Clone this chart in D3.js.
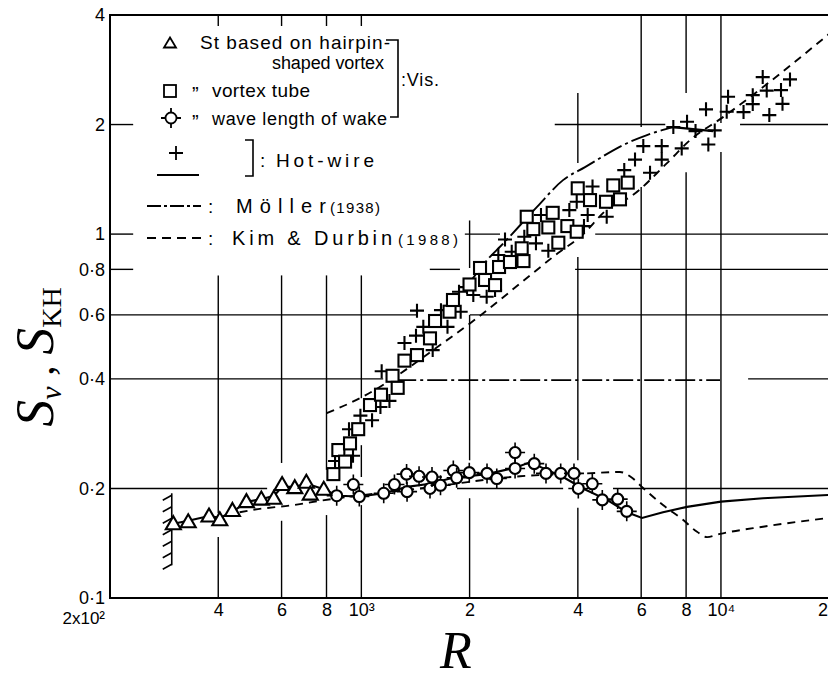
<!DOCTYPE html>
<html>
<head>
<meta charset="utf-8">
<script src="https://cdn.jsdelivr.net/npm/d3@7"></script>
<style>
  body { margin: 0; background: #fff; }
  text { font-family: "Liberation Sans", "DejaVu Sans", sans-serif; fill: #000; }
  .serif { font-family: "Liberation Serif", "DejaVu Serif", serif; }
</style>
</head>
<body>
<div id="chart"></div>
<script>
// values: [R, S]
const triangles = [[300,0.160],[330,0.162],[377,0.168],[404,0.164],[438,0.174],[479,0.184],[527,0.187],
  [571,0.188],[602,0.205],[653,0.201],[703,0.208],[721,0.193],[786,0.199]];

const squares = [[836,0.219],[863,0.255],[901,0.237],[930,0.266],[980,0.291],[1057,0.339],[1134,0.362],
  [1221,0.408],[1262,0.378],[1318,0.449],[1428,0.465],[1552,0.517],[1603,0.577],[1759,0.612],[1798,0.659],
  [1999,0.727],[2138,0.807],[2208,0.748],[2354,0.724],[2415,0.812],[2590,0.838],[2824,0.843],[2792,0.914],
  [2883,1.116],[3008,1.032],[3311,1.043],[3405,1.144],[3530,0.947],[3740,1.052],[3971,1.015],[3997,1.336],
  [4324,1.240],[4790,1.227],[5018,1.361],[5239,1.246],[5505,1.385]];

const diamonds = [[854,0.191],[950,0.205],[987,0.190],[1154,0.194],[1236,0.205],[1336,0.219],[1340,0.196],
  [1447,0.216],[1552,0.200],[1572,0.215],[1660,0.204],[1802,0.224],[1841,0.214],[1996,0.221],[2236,0.220],
  [2380,0.213],[2676,0.251],[2676,0.227],[3026,0.234],[3262,0.220],[3584,0.220],[3902,0.220],[4012,0.200],
  [4388,0.206],[4678,0.186],[5162,0.187],[5470,0.173]];

const crosses = [[845,0.238],[924,0.291],[948,0.246],[994,0.317],[1071,0.308],[1130,0.335],[1197,0.348],
  [1139,0.420],[1318,0.502],[1389,0.465],[1419,0.526],[1428,0.616],[1487,0.556],[1579,0.480],[1665,0.618],
  [1736,0.556],[1869,0.694],[1889,0.612],[1967,0.715],[2048,0.680],[2231,0.673],[2354,0.702],[2404,0.876],
  [2509,0.966],[2619,0.894],[2839,0.983],[3059,0.943],[3159,1.128],[3311,0.900],[3788,1.164],[3971,1.227],
  [4260,1.128],[4394,1.351],[4160,1.052],[4812,1.116],[5384,1.499],[5768,1.602],[6082,1.745],[6350,1.474],
  [6844,1.745],[6844,1.602],[7778,1.720],[7372,1.968],[8048,2.035],[8498,1.919],[9224,1.762],[9610,1.927],
  [9088,2.202],[10466,2.384],[10376,2.168],[11556,2.164],[12258,2.409],[12258,2.276],[13066,2.700],
  [13406,2.479],[14690,2.487],[15560,2.661],[13630,2.123],[14830,2.280]];

// hot-wire mean lines
const hotWireLow = [[300,0.160],[330,0.163],[377,0.168],[404,0.166],[440,0.173],[481,0.184],[529,0.187],
  [572,0.191],[602,0.202],[654,0.202],[706,0.206],[787,0.199],[856,0.191],[991,0.190],[1156,0.194],
  [1339,0.202],[1552,0.206],[1798,0.214],[2236,0.219],[2676,0.228],[2944,0.236],[3284,0.225],[3638,0.215],
  [4134,0.200],[4822,0.186],[5480,0.172],[6032,0.166],[6900,0.172],[8048,0.178],[10004,0.184],
  [13090,0.188],[20000,0.192]];
const hotWireHigh = [[7356,1.968],[9504,1.919]];

// Moller (1938), dash-dot
const mollerCurve = [[2005,0.738],[2279,0.866],[2430,0.923],[3080,1.188],[3638,1.407],[4188,1.528],
  [5585,1.793],[6226,1.871],[7356,1.968]];
const mollerFlat = [[1250,0.397],[9940,0.397]];

// Kim & Durbin (1988), dashed
const kimDurbinHigh = [[801,0.322],[991,0.354],[1687,0.502],[2098,0.588],[3002,0.782],[3524,0.887],
  [4055,0.981],[4914,1.186],[5585,1.264],[7078,1.567],[8204,1.812],[10134,2.096],[20000,3.55]];
const kimDurbinLow = [[420,0.169],[506,0.175],[646,0.180],[767,0.185],[1456,0.200],[2762,0.216],
  [4242,0.220],[5239,0.222],[5658,0.214],[5996,0.203],[6900,0.180],[7842,0.164],[8580,0.152],
  [9148,0.147],[9942,0.150],[13090,0.157],[20000,0.166]];

// hatched wall
const wallR = 297;
const wallS = [0.123, 0.194];

// ticks
const xTickValues = [400, 600, 800, 1000, 2000, 4000, 6000, 8000, 10000];
const xTickLabels = ['4', '6', '8', '10³', '2', '4', '6', '8', '10⁴'];
const yTickValues = [0.1, 0.2, 0.4, 0.6, 0.8, 1, 2, 4];
const yTickLabels = ['0·1', '0·2', '0·4', '0·6', '0·8', '1', '2', '4'];
const topTicks = [400, 600, 800, 1000];

// broken grid lines (as drawn in the original figure)
const vGridR = [400, 600, 800, 1000, 2000, 4000, 6000, 8000, 10000];
const vGridSpans = [
  [[0.1,0.147],[0.171,0.77]],
  [[0.1,0.163],[0.235,0.77]],
  [[0.1,0.169],[0.225,0.77]],
  [[0.1,0.18],[0.215,0.263],[0.354,0.77]],
  [[0.1,0.188],[0.239,0.6],[0.807,1.09]],
  [[0.1,0.177],[0.239,0.865],[1.567,2.44]],
  [[0.1,1.347],[1.968,4]],
  [[0.1,1.48],[2.44,4]],
  [[0.1,1.68],[2.02,4]]
];
const hGridS = [2, 1, 0.8, 0.6, 0.4, 0.2];
const hGridSpans = [
  [[200,232],[3450,7000],[11300,20000]],
  [[200,232],[1940,2430],[4470,20000]],
  [[200,232],[1550,1880],[3930,20000]],
  [[200,1437],[2005,20000]],
  [[200,1150],[11900,20000]],
  [[200,547],[1845,3640],[5010,20000]]
];

const W = 828, H = 680;
const svg = d3.select('#chart').append('svg').attr('width', W).attr('height', H);

const x = d3.scaleLog().domain([200, 20000]).range([110, 829.2]);
const y = d3.scaleLog().domain([0.1, 4]).range([598, 15]);

// grid
const grid = svg.append('g').attr('stroke', '#000').attr('stroke-width', 1.4);
vGridR.forEach((r, i) => {
  vGridSpans[i].forEach(s => {
    grid.append('line').attr('x1', x(r)).attr('x2', x(r)).attr('y1', y(s[0])).attr('y2', y(s[1]));
  });
});
hGridS.forEach((v, i) => {
  hGridSpans[i].forEach(s => {
    grid.append('line').attr('x1', x(s[0])).attr('x2', x(s[1])).attr('y1', y(v)).attr('y2', y(v));
  });
});
topTicks.forEach(r => {
  grid.append('line').attr('x1', x(r)).attr('x2', x(r)).attr('y1', y(4)).attr('y2', y(4) + 11);
});

// frame
const frame = svg.append('g').attr('stroke', '#000').attr('stroke-width', 2).attr('fill', 'none');
frame.append('path').attr('d', `M${x(20000)},${y(4)}H${x(200)}V${y(0.1)}H${x(20000)}`);

// axes labels
const yAxis = svg.append('g').attr('transform', `translate(${x(200)},0)`)
  .call(d3.axisLeft(y).tickValues(yTickValues).tickFormat((d, i) => yTickLabels[i]).tickSize(0).tickPadding(5));
yAxis.select('.domain').remove();
yAxis.selectAll('text').attr('font-size', 18).attr('font-family', '"Liberation Sans", sans-serif');

const xAxis = svg.append('g').attr('transform', `translate(0,${y(0.1)})`)
  .call(d3.axisBottom(x).tickValues(xTickValues).tickFormat((d, i) => xTickLabels[i]).tickSize(0).tickPadding(5));
xAxis.select('.domain').remove();
xAxis.selectAll('text').attr('font-size', 18).attr('font-family', '"Liberation Sans", sans-serif');
svg.append('text').attr('x', x(200) - 5).attr('y', 624).attr('text-anchor', 'end')
  .attr('font-size', 17).text('2x10²');
svg.append('text').attr('x', W).attr('y', 598 + 5 + 0.71 * 18).attr('text-anchor', 'end')
  .attr('font-size', 18).text('2');

// lines
const line = d3.line().x(d => x(d[0])).y(d => y(d[1]));
const smooth = d3.line().x(d => x(d[0])).y(d => y(d[1])).curve(d3.curveMonotoneX);
const curves = svg.append('g').attr('fill', 'none').attr('stroke', '#000');

curves.append('path').attr('d', smooth(kimDurbinLow)).attr('stroke-width', 1.9).attr('stroke-dasharray', '8,6');
curves.append('path').attr('d', smooth(kimDurbinHigh)).attr('stroke-width', 1.9).attr('stroke-dasharray', '8,6');
curves.append('path').attr('d', smooth(mollerCurve)).attr('stroke-width', 1.9).attr('stroke-dasharray', '20,4,3,4');
curves.append('path').attr('d', line(mollerFlat)).attr('stroke-width', 1.9).attr('stroke-dasharray', '20,4,3,4');
curves.append('path').attr('d', line(hotWireLow)).attr('stroke-width', 2.1);
curves.append('path').attr('d', line(hotWireHigh)).attr('stroke-width', 2.3);

// hatched wall
const wall = svg.append('g').attr('stroke', '#000').attr('stroke-width', 1.6);
wall.append('line').attr('x1', x(wallR)).attr('x2', x(wallR)).attr('y1', y(wallS[0])).attr('y2', y(wallS[1]));
d3.range(7).forEach(i => {
  const yy = y(wallS[1]) + 2 + i * 11.5;
  wall.append('line').attr('x1', x(wallR)).attr('y1', yy).attr('x2', x(wallR) - 9).attr('y2', yy + 5);
});

// markers
const triPath = 'M0,-7.5L7.5,5.5L-7.5,5.5Z';
const crossPath = 'M-7,0H7M0,-7V7';
const diaTicks = 'M0,-10V-5.5M0,5.5V10M-10,0H-5.5M5.5,0H10';

const marks = svg.append('g').attr('stroke', '#000').attr('stroke-width', 2.1);
marks.selectAll('.cr').data(crosses).join('path').attr('class', 'cr')
  .attr('transform', d => `translate(${x(d[0])},${y(d[1])})`).attr('d', crossPath).attr('fill', 'none');
marks.selectAll('.sq').data(squares).join('rect').attr('class', 'sq')
  .attr('x', d => x(d[0]) - 6).attr('y', d => y(d[1]) - 6).attr('width', 12).attr('height', 12)
  .attr('fill', '#fff');
const dg = marks.selectAll('.di').data(diamonds).join('g').attr('class', 'di')
  .attr('transform', d => `translate(${x(d[0])},${y(d[1])})`);
dg.append('path').attr('d', diaTicks).attr('stroke-width', 1.6);
dg.append('circle').attr('r', 5.5).attr('fill', '#fff');
marks.selectAll('.tr').data(triangles).join('path').attr('class', 'tr')
  .attr('transform', d => `translate(${x(d[0])},${y(d[1])})`).attr('d', triPath).attr('fill', '#fff');

// legend
const lg = svg.append('g');
const lm = lg.append('g').attr('stroke', '#000').attr('stroke-width', 1.8).attr('fill', 'none');
lm.append('path').attr('transform', 'translate(170,43)').attr('d', 'M0,-5.5L6,4.5L-6,4.5Z');
lm.append('rect').attr('x', 164).attr('y', 85).attr('width', 12).attr('height', 12);
lm.append('path').attr('transform', 'translate(171,118)').attr('d', diaTicks);
lm.append('circle').attr('cx', 171).attr('cy', 118).attr('r', 5.5).attr('fill', '#fff');
lm.append('path').attr('transform', 'translate(176,153)').attr('d', crossPath);
lm.append('line').attr('x1', 157).attr('x2', 199).attr('y1', 175).attr('y2', 175).attr('stroke-width', 2);
lm.append('line').attr('x1', 147).attr('x2', 201).attr('y1', 206).attr('y2', 206).attr('stroke-dasharray', '14,3,3,3');
lm.append('line').attr('x1', 147).attr('x2', 203).attr('y1', 238).attr('y2', 238).attr('stroke-dasharray', '9,6');
// brackets
lm.append('path').attr('d', 'M386,40H398V117H390').attr('stroke-width', 1.6);
lm.append('path').attr('d', 'M245,140H253V176H245').attr('stroke-width', 1.6);

const legendText = [
  { t: 'St based on hairpin-', x: 200, y: 49, w: 190, fs: 19 },
  { t: 'shaped vortex', x: 272, y: 69, w: 112, fs: 18 },
  { t: '„', x: 192, y: 89, w: 9, fs: 20 },
  { t: 'vortex tube', x: 212, y: 97, w: 98, fs: 19 },
  { t: '„', x: 192, y: 117, w: 9, fs: 20 },
  { t: 'wave length of wake', x: 212, y: 125, w: 175, fs: 18 },
  { t: ':Vis.', x: 401, y: 86, w: 38, fs: 18 },
  { t: ':', x: 260, y: 167, w: 5, fs: 19 },
  { t: 'Hot-wire', x: 276, y: 167, w: 98, fs: 19 },
  { t: ':', x: 208, y: 213, w: 5, fs: 19 },
  { t: 'Möller', x: 236, y: 213, w: 90, fs: 20 },
  { t: '(1938)', x: 330, y: 213, w: 50, fs: 15 },
  { t: ':', x: 208, y: 245, w: 5, fs: 19 },
  { t: 'Kim & Durbin', x: 232, y: 245, w: 160, fs: 20 },
  { t: '(1988)', x: 398, y: 245, w: 60, fs: 15 }
];
lg.selectAll('.lt').data(legendText).join('text').attr('class', 'lt')
  .attr('x', d => d.x).attr('y', d => d.y).attr('font-size', d => d.fs)
  .attr('textLength', d => d.w).attr('lengthAdjust', 'spacing').text(d => d.t);

// axis titles
svg.append('text').attr('class', 'serif').attr('x', 456).attr('y', 668).attr('text-anchor', 'middle')
  .attr('font-size', 52).attr('font-style', 'italic').text('R');

const yt = svg.append('text').attr('class', 'serif')
  .attr('transform', 'translate(53,357) rotate(-90)').attr('text-anchor', 'middle');
yt.append('tspan').attr('font-size', 54).attr('font-style', 'italic').text('S');
yt.append('tspan').attr('font-size', 30).attr('font-style', 'italic').attr('dy', 8).text('ν');
yt.append('tspan').attr('font-size', 42).attr('dy', -8).text(' ,  ');
yt.append('tspan').attr('font-size', 54).attr('font-style', 'italic').text('S');
yt.append('tspan').attr('font-size', 28).attr('dy', 8).text('KH');
</script>
</body>
</html>
